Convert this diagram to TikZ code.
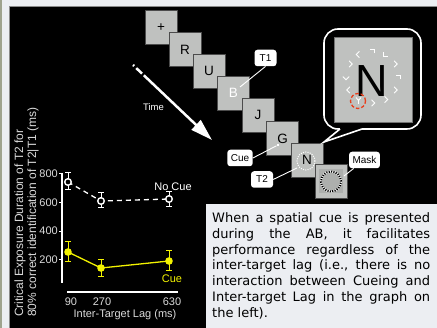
\documentclass[tikz,border=0pt]{standalone}
\usepackage{fontspec}
\setmainfont{Liberation Sans}
\newfontfamily\notefont{DejaVu Sans}
\usetikzlibrary{arrows.meta}

\definecolor{pagebg}{HTML}{ECEEF2}
\definecolor{edgeband}{HTML}{9FA38E}
\definecolor{panelline}{HTML}{8A8A8A}
\definecolor{framegray}{HTML}{BFC1BF}
\definecolor{maskgray}{HTML}{ADAFAD}
\definecolor{axisgray}{HTML}{DADADA}
\definecolor{cueyellow}{HTML}{F2F200}
\definecolor{cuered}{HTML}{E8401E}

\tikzset{
  frame/.style={draw=black!70, line width=0.8pt, fill=framegray,
    minimum width=32pt, minimum height=34pt, inner sep=0pt,
    font=\fontsize{13.5}{13.5}\selectfont},
  tag/.style={fill=white, rounded corners=3pt, minimum width=22pt,
    minimum height=16.5pt, inner xsep=3.5pt, inner ysep=2pt,
    font=\fontsize{10}{10}\selectfont},
  tagline/.style={white, line width=0.9pt},
  graphtext/.style={text=axisgray, inner sep=1pt, font=\fontsize{11}{11}\selectfont},
  axisline/.style={white, line width=1.6pt},
  errbar/.style={line width=1pt},
  ringmark/.style={white, line width=0.9pt},
  noteline/.style={anchor=base west, inner sep=0pt, text=black,
    font=\notefont\fontsize{13}{15.8}\selectfont},
}

\begin{document}
\begin{tikzpicture}[x=1pt, y=-1pt]
\useasboundingbox (0,0) rectangle (437,328);

% page, side band, black panel and note area
\fill[pagebg] (0,0) rectangle (437,328);
\fill[edgeband] (0,0) rectangle (2.2,328);
\filldraw[fill=black, draw=panelline, line width=0.8pt] (9.4,6.4) rectangle (440,331);
\fill[pagebg] (206,204) rectangle (437,328);

% RSVP stream of frames
\node[frame] (f1) at (161,27.5) {+};
\node[frame] (f2) at (185,49.5) {R};
\node[frame] (f3) at (209,71) {U};
\node[frame, text=white] (f4) at (233.5,93) {B};
\node[frame] (f5) at (258,115) {J};
\node[frame] (f6) at (282.5,138.5) {G};
\node[frame] (f7) at (307,160) {N};
\draw[white, line width=1pt, dash pattern=on 1pt off 1.3pt] (306,161) circle[radius=9pt];
\node[frame] (f8) at (331,181.5) {};
\node[fill=maskgray, minimum size=24pt, inner sep=0pt] (maskin) at (f8.center) {};
\draw[white, line width=2pt] (f8.center) circle[radius=10pt];
\draw[black, line width=2pt, dash pattern=on 1.2pt off 1.2pt] (f8.center) circle[radius=10pt];

% spatial cue dot
\node[fill=white, inner sep=0pt, minimum size=2.6pt] (cuedot) at (278,145) {};

% labels
\node[tag] (lt1) at (265.5,58) {T1};
\node[tag] (lcue) at (240,158) {Cue};
\node[tag] (lt2) at (262,179.5) {T2};
\node[tag] (lmask) at (364.5,160) {Mask};
\coordinate (pt1) at (240,87);
\coordinate (pt2) at (297,168);
\coordinate (pmask) at (344,176);
\draw[tagline] (lt1.south) -- (pt1);
\draw[tagline] (lcue.east) -- (cuedot);
\draw[tagline] (lt2.east) -- (pt2);
\draw[tagline] (lmask) -- (pmask);

% time arrow
\coordinate (tstart) at (133,65);
\coordinate (tend) at (212,140);
\draw[white, line width=2.5pt,
  dash pattern=on 1.5pt off 3pt on 8pt off 2.5pt on 300pt off 0pt,
  -{Triangle[length=22pt,width=13pt]}] (tstart) -- (tend);
\node[text=white, font=\fontsize{9.5}{9.5}\selectfont] (timelbl) at (153.5,107) {Time};

% magnified view of T2 frame
\draw[white, line width=1.6pt, fill=black, rounded corners=14pt] (324,29) rectangle (421,129);
\draw[black, line width=2.2pt] (340,129) -- (362,129);
\draw[white, line width=1.6pt, fill=black, line join=miter] (340,129) -- (324,142) -- (362,129);
\node[fill=framegray, draw=black!55, line width=0.6pt, minimum width=78pt,
  minimum height=85pt, inner sep=0pt] (zoomsq) at (373,79.5) {};
\node[inner sep=0pt, font=\fontsize{45}{45}\selectfont] (bigN) at (372,81) {N};
\foreach \a/\r in {-90/180, -60/0, -30/135, 0/180, 30/135, 60/135,
                   90/135, 150/-45, 180/45, 210/135, 240/-45}
  \draw[ringmark, shift={(372,77)}, shift={(\a:26)}, rotate=\r]
    (-2,-2.5) -- (-2,2) -- (2.5,2);
\draw[white, line width=0.9pt] (356,97.5) -- (358.5,100.5) -- (361,97.5)
  (358.5,100.5) -- (358.5,104);
\draw[cuered, line width=1.3pt, dash pattern=on 3.5pt off 2pt] (358,101) circle[radius=7.5pt];

% graph axes
\draw[axisline] (62,173) -- (62,283);
\draw[axisline] (67,292) -- (178,292);
\foreach \yy/\t in {173.7/800, 202.4/600, 231.1/400, 259.8/200} {
  \draw[white, line width=1pt] (59,\yy) -- (62,\yy);
  \node[graphtext, anchor=east] at (59,\yy) {\t};
}
\node[graphtext] (x90) at (71,302) {90};
\node[graphtext] (x270) at (102,302) {270};
\node[graphtext] (x630) at (172,302) {630};
\node[graphtext] (xtitle) at (125,314.5) {Inter-Target Lag (ms)};
\node[graphtext, rotate=90, anchor=west, font=\fontsize{12}{12}\selectfont] (ytitle1) at (20,318)
  {Critical Exposure Duration of T2 for};
\node[graphtext, rotate=90, anchor=west, font=\fontsize{12}{12}\selectfont] (ytitle2) at (33,318)
  {80\% correct identification of T2|T1 (ms)};

% no-cue series
\coordinate (n1) at (68,182);
\coordinate (n2) at (101,201);
\coordinate (n3) at (169,199);
\draw[white, line width=1.3pt, dash pattern=on 5pt off 4pt] (n1) -- (n2) -- (n3);
\foreach \xx/\lo/\hi in {68/173/190, 101/193/208, 169/192/207}
  \draw[white, errbar] (\xx,\lo) -- (\xx,\hi) (\xx-3,\lo) -- (\xx+3,\lo) (\xx-3,\hi) -- (\xx+3,\hi);
\foreach \p in {n1,n2,n3}
  \filldraw[draw=white, fill=black, line width=1.4pt] (\p) circle[radius=3.3pt];
\node[text=white, inner sep=1pt, font=\fontsize{11}{11}\selectfont] (nocuelbl) at (173,187) {No Cue};

% cue series
\coordinate (c1) at (68,252);
\coordinate (c2) at (101,268);
\coordinate (c3) at (169,261);
\draw[cueyellow, line width=1.3pt] (c1) -- (c2) -- (c3);
\foreach \xx/\lo/\hi in {68/242/262, 101/260/277, 169/251/271}
  \draw[cueyellow, errbar] (\xx,\lo) -- (\xx,\hi) (\xx-3,\lo) -- (\xx+3,\lo) (\xx-3,\hi) -- (\xx+3,\hi);
\foreach \p in {c1,c2,c3}
  \fill[cueyellow] (\p) circle[radius=3.8pt];
\node[text=cueyellow, inner sep=1pt, font=\fontsize{11}{11}\selectfont] (cuelbl) at (172,279) {Cue};

% note
\node[noteline] (l1) at (212,222.5) {\makebox[218pt][s]{When a spatial cue is presented}};
\node[noteline] (l2) at (212,238.3) {\makebox[218pt][s]{during the AB, it facilitates}};
\node[noteline] (l3) at (212,254.1) {\makebox[218pt][s]{performance regardless of the}};
\node[noteline] (l4) at (212,269.9) {\makebox[218pt][s]{inter-target lag (i.e., there is no}};
\node[noteline] (l5) at (212,285.7) {\makebox[218pt][s]{interaction between Cueing and}};
\node[noteline] (l6) at (212,301.5) {\makebox[218pt][s]{Inter-target Lag in the graph on}};
\node[noteline] (l7) at (212,317.3) {the left).};
\end{tikzpicture}
\end{document}
